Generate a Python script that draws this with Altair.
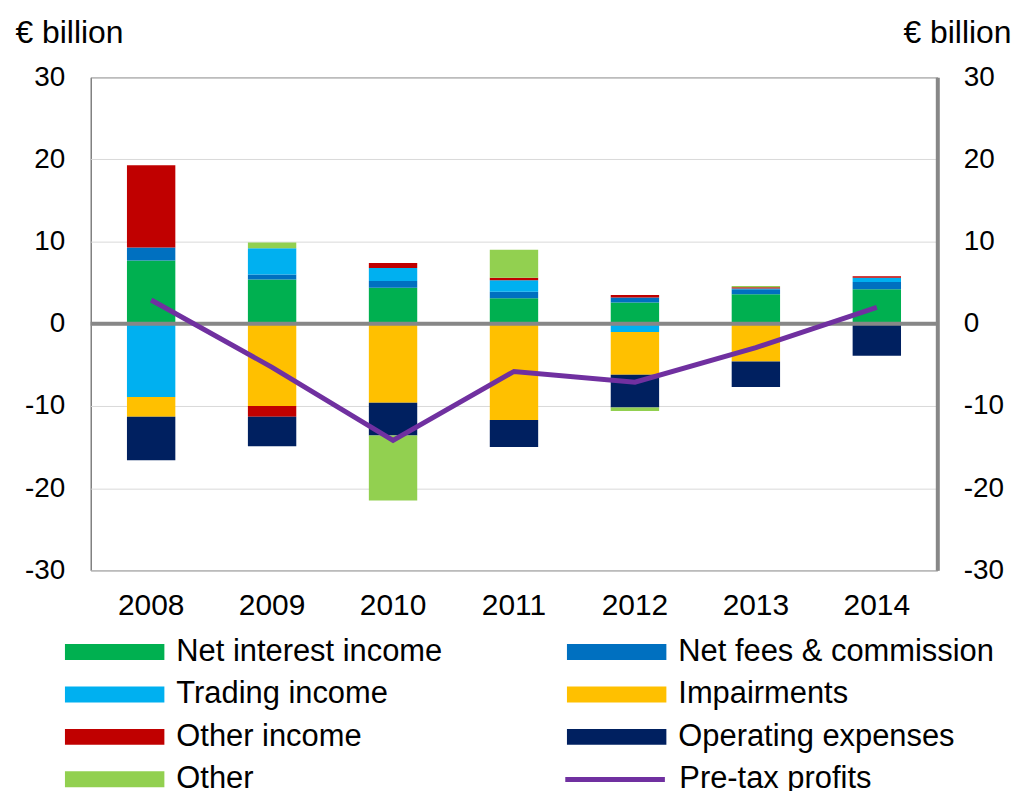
import altair as alt
import pandas as pd

years = ["2008", "2009", "2010", "2011", "2012", "2013", "2014"]

net_interest = [7.7, 5.4, 4.4, 3.1, 2.6, 3.6, 4.2]
net_fees = [1.6, 0.6, 0.8, 0.8, 0.6, 0.6, 0.9]
trading = [-8.9, 3.2, 1.6, 1.4, -1.0, 0.1, 0.5]
impairments = [-2.4, -10.0, -9.6, -11.7, -5.2, -4.6, 0.0]
other_income = [10.0, -1.3, 0.6, 0.3, 0.3, 0.15, 0.2]
operating_exp = [-5.3, -3.6, -4.0, -3.3, -4.0, -3.1, -3.9]
other = [0.0, 0.7, -7.9, 3.4, -0.4, 0.15, 0.0]
pretax = [2.9, -5.3, -14.2, -5.8, -7.1, -2.9, 2.0]

series_names = ["Net interest income", "Net fees & commission", "Trading income",
                "Impairments", "Other income", "Operating expenses", "Other"]
series_colors = ["#00B050", "#0070C0", "#00B0F0", "#FFC000", "#C00000", "#002060", "#92D050"]
series_values = [net_interest, net_fees, trading, impairments, other_income, operating_exp, other]

y_ticks = [-30, -20, -10, 0, 10, 20, 30]

rows = []
for k, (name, vals) in enumerate(zip(series_names, series_values)):
    for yr, v in zip(years, vals):
        if v != 0:
            rows.append({"year": yr, "series": name, "value": v, "ord": k})
bar_df = pd.DataFrame(rows)
line_df = pd.DataFrame({"year": years, "value": pretax, "series": ["Pre-tax profits"] * len(years)})
zero_df = pd.DataFrame({"value": [0]})

FONT = "Liberation Sans"
ydom = [-30, 30]

x_enc = alt.X("year:N", sort=years,
              scale=alt.Scale(paddingInner=0.6, paddingOuter=0.3),
              axis=alt.Axis(title=None, labelAngle=0, ticks=False, domain=False,
                            labelPadding=20, labelFontSize=30))

bars = alt.Chart(bar_df).mark_bar().encode(
    x=x_enc,
    y=alt.Y("value:Q", stack="zero",
            scale=alt.Scale(domain=ydom, nice=False),
            axis=alt.Axis(title="€ billion", values=y_ticks, grid=True, gridColor="#D9D9D9",
                          gridWidth=1, ticks=False, domain=False, labelPadding=26,
                          labelExpr="'' + datum.value",
                          titleAngle=0, titleAlign="left", titleBaseline="alphabetic",
                          titleX=-76, titleY=-35)),
    color=alt.Color("series:N",
                    scale=alt.Scale(domain=series_names, range=series_colors),
                    legend=alt.Legend(title=None, orient="none", legendX=-26, legendY=560,
                                      direction="horizontal",
                                      columns=2, columnPadding=124, rowPadding=8.6,
                                      clipHeight=34,
                                      symbolType="M-1,-0.16H1V0.16H-1Z", symbolSize=10000,
                                      symbolStrokeWidth=0, labelOffset=12, labelLimit=0)),
    order=alt.Order("ord:Q", sort="ascending"),
)

zero_rule = alt.Chart(zero_df).mark_rule(color="#878787", strokeWidth=4).encode(
    y=alt.Y("value:Q", scale=alt.Scale(domain=ydom, nice=False))
)

line = alt.Chart(line_df).mark_line(strokeWidth=5).encode(
    x=alt.X("year:N", sort=years),
    y=alt.Y("value:Q", scale=alt.Scale(domain=ydom, nice=False),
            axis=alt.Axis(orient="right", title="€ billion", values=y_ticks, grid=False,
                          ticks=False, domain=True, domainColor="#878787", domainWidth=4,
                          labelPadding=26, labelExpr="'' + datum.value",
                          titleAngle=0, titleAlign="right",
                          titleBaseline="alphabetic", titleX=74, titleY=-35)),
    stroke=alt.Stroke("series:N",
                      scale=alt.Scale(domain=["Pre-tax profits"], range=["#7030A0"]),
                      legend=alt.Legend(title=None, orient="none", legendX=474, legendY=688,
                                        clipHeight=34,
                                        symbolType="stroke", symbolSize=10000,
                                        symbolStrokeWidth=5, labelOffset=12, labelLimit=0)),
)

chart = alt.layer(alt.layer(bars, zero_rule), line).resolve_scale(
    y="independent"
).properties(
    width=850, height=495,
    padding={"left": 83, "top": 68, "right": 75, "bottom": 220},
    autosize=alt.AutoSizeParams(type="none"),
).configure_view(
    stroke="#404040", strokeWidth=1
).configure_axis(
    labelFont=FONT, labelFontSize=28, labelColor="black",
    titleFont=FONT, titleFontSize=32, titleColor="black", titleFontWeight="normal"
).configure_legend(
    labelFont=FONT, labelFontSize=31, labelColor="black"
)

chart.save("out.html", embed_options={"renderer": "svg", "actions": False})
